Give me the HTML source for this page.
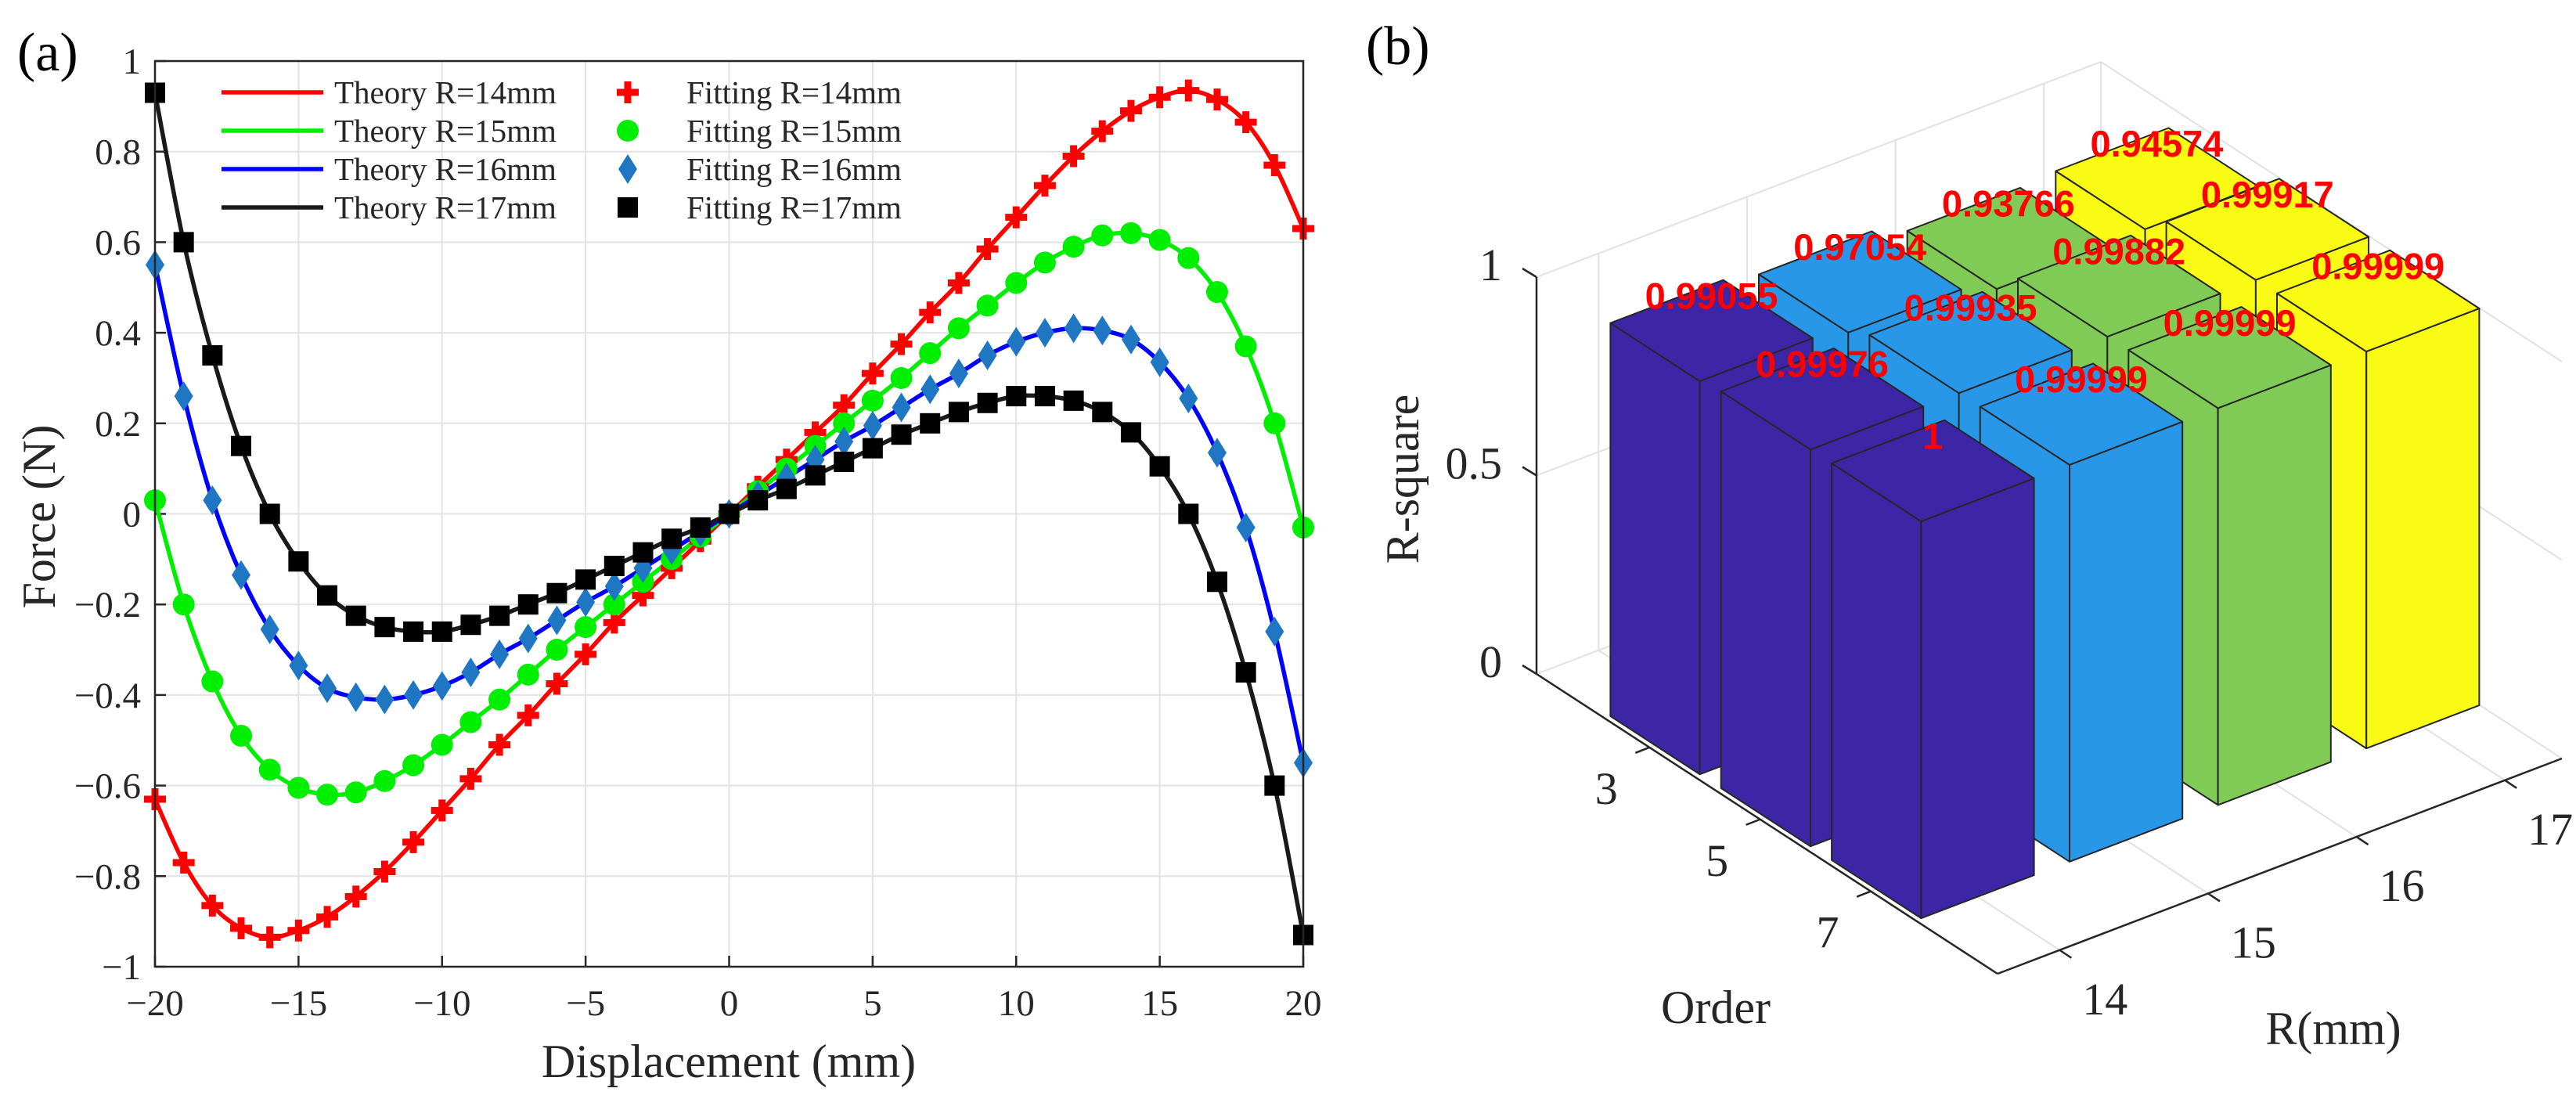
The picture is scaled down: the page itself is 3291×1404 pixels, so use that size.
<!DOCTYPE html>
<html><head><meta charset="utf-8"><style>
html,body{margin:0;padding:0;background:#fff;}
svg{display:block;}
</style></head><body>
<svg id="fig" width="3291" height="1404" viewBox="0 0 3291 1404" xmlns="http://www.w3.org/2000/svg">
<g id="left"></g>
<g id="right"></g>
</svg>
<script>
// ---------- Left chart data ----------
const xs = [-20,-19,-18,-17,-16,-15,-14,-13,-12,-11,-10,-9,-8,-7,-6,-5,-4,-3,-2,-1,0,1,2,3,4,5,6,7,8,9,10,11,12,13,14,15,16,17,18,19,20];
const r14 = [-0.63,-0.77,-0.865,-0.915,-0.935,-0.92,-0.89,-0.845,-0.79,-0.725,-0.655,-0.585,-0.51,-0.445,-0.375,-0.31,-0.24,-0.18,-0.12,-0.06,0,0.06,0.12,0.18,0.24,0.31,0.375,0.445,0.51,0.585,0.655,0.725,0.79,0.845,0.89,0.92,0.935,0.915,0.865,0.77,0.63];
const r15 = [0.03,-0.2,-0.37,-0.49,-0.565,-0.605,-0.62,-0.615,-0.59,-0.555,-0.51,-0.46,-0.41,-0.355,-0.3,-0.25,-0.2,-0.15,-0.1,-0.05,0,0.05,0.1,0.15,0.2,0.25,0.3,0.355,0.41,0.46,0.51,0.555,0.59,0.615,0.62,0.605,0.565,0.49,0.37,0.2,-0.03];
const r16 = [0.55,0.26,0.03,-0.135,-0.255,-0.335,-0.385,-0.405,-0.41,-0.4,-0.38,-0.35,-0.31,-0.275,-0.235,-0.195,-0.16,-0.12,-0.08,-0.04,0,0.04,0.08,0.12,0.16,0.195,0.235,0.275,0.31,0.35,0.38,0.4,0.41,0.405,0.385,0.335,0.255,0.135,-0.03,-0.26,-0.55];
const r17 = [0.93,0.6,0.35,0.15,0,-0.105,-0.18,-0.225,-0.25,-0.26,-0.26,-0.245,-0.225,-0.2,-0.175,-0.145,-0.115,-0.085,-0.055,-0.03,0,0.03,0.055,0.085,0.115,0.145,0.175,0.2,0.225,0.245,0.26,0.26,0.25,0.225,0.18,0.105,0,-0.15,-0.35,-0.6,-0.93];
const xTicks = [-20,-15,-10,-5,0,5,10,15,20];
const yTicks = [-1,-0.8,-0.6,-0.4,-0.2,0,0.2,0.4,0.6,0.8,1];
const seriesNames = ["R=14mm","R=15mm","R=16mm","R=17mm"];

// ---------- Right chart data ----------
const orders = ["3","5","7"];
const radii = ["14","15","16","17"];
const rsq3 = [0.99055,0.97054,0.93766,0.94574];
const rsq5 = [0.99976,0.99935,0.99882,0.99917];
const rsq7 = [1,0.99999,0.99999,0.99999];
const rsqLabels3 = ["0.99055","0.97054","0.93766","0.94574"];
const rsqLabels5 = ["0.99976","0.99935","0.99882","0.99917"];
const rsqLabels7 = ["1","0.99999","0.99999","0.99999"];
const zTicks = [0,0.5,1];
const zTickLabels = ["0","0.5","1"];

const NS = "http://www.w3.org/2000/svg";
function mk(parent, tag, attrs, text){
  const e = document.createElementNS(NS, tag);
  for (const k in attrs) e.setAttribute(k, attrs[k]);
  if (text !== undefined) e.textContent = text;
  parent.appendChild(e);
  return e;
}
const TIMES = '"Liberation Serif", serif';
const ARIAL = '"Liberation Sans", sans-serif';

// ================= LEFT =================
const L = document.getElementById('left');
const PX0=198, PX1=1665, PY0=78, PY1=1235;
const sx = v => PX0 + (v+20)/40*(PX1-PX0);
const sy = v => PY0 + (1-v)/2*(PY1-PY0);

// grid
xTicks.forEach(t=>{
  const g = mk(L,'line',{x1:sx(t),x2:sx(t),y1:PY0,y2:PY1,stroke:'#e3e3e3','stroke-width':2});
  
  
});
yTicks.forEach(t=>{
  const g = mk(L,'line',{x1:PX0,x2:PX1,y1:sy(t),y2:sy(t),stroke:'#e3e3e3','stroke-width':2});
  
  
});
// ticks & labels
xTicks.forEach(t=>{
  const tk = mk(L,'line',{x1:sx(t),x2:sx(t),y1:PY1,y2:PY1-14,stroke:'#262626','stroke-width':2.5});
  
  
  const lb = mk(L,'text',{x:sx(t),y:1297,'text-anchor':'middle','font-family':TIMES,'font-size':47,fill:'#262626'}, String(t).replace('-','\u2212'));
  
  
});
yTicks.forEach(t=>{
  const tk = mk(L,'line',{x1:PX0,x2:PX0+14,y1:sy(t),y2:sy(t),stroke:'#262626','stroke-width':2.5});
  
  
  const lb = mk(L,'text',{x:180,y:sy(t)+16,'text-anchor':'end','font-family':TIMES,'font-size':47,fill:'#262626'}, String(t).replace('-','\u2212'));
  
  
});

const colors = ['#ff0000','#00ee00','#0000ff','#1a1a1a'];
const markerColors = ['#ff0000','#00ee00','#1f77c4','#000000'];
const allSeries = [r14,r15,r16,r17];

function smoothPath(vals){
  const pts = xs.map((x,i)=>[sx(x),sy(vals[i])]);
  let d = 'M'+pts[0][0].toFixed(1)+','+pts[0][1].toFixed(1);
  for (let i=0;i<pts.length-1;i++){
    const p0=pts[Math.max(0,i-1)], p1=pts[i], p2=pts[i+1], p3=pts[Math.min(pts.length-1,i+2)];
    const c1=[p1[0]+(p2[0]-p0[0])/6, p1[1]+(p2[1]-p0[1])/6];
    const c2=[p2[0]-(p3[0]-p1[0])/6, p2[1]-(p3[1]-p1[1])/6];
    d += ' C'+c1[0].toFixed(1)+','+c1[1].toFixed(1)+' '+c2[0].toFixed(1)+','+c2[1].toFixed(1)+' '+p2[0].toFixed(1)+','+p2[1].toFixed(1);
  }
  return d;
}
function drawMarker(parent, k, cx, cy){
  let m;
  const c = markerColors[k];
  if (k===0){
    m = mk(parent,'path',{d:`M${cx-14},${cy}H${cx+14}M${cx},${cy-14}V${cy+14}`,stroke:c,'stroke-width':9,fill:'none'});
  } else if (k===1){
    m = mk(parent,'circle',{cx:cx,cy:cy,r:14,fill:c});
  } else if (k===2){
    m = mk(parent,'path',{d:`M${cx},${cy-19}L${cx+12},${cy}L${cx},${cy+19}L${cx-12},${cy}Z`,fill:c});
  } else {
    m = mk(parent,'rect',{x:cx-13,y:cy-13,width:26,height:26,fill:c});
  }
  return m;
}
allSeries.forEach((vals,k)=>{
  const p = mk(L,'path',{d:smoothPath(vals),fill:'none',stroke:colors[k],'stroke-width':5.5,'stroke-linejoin':'round'});
  
  
});
allSeries.forEach((vals,k)=>{
  xs.forEach((x,i)=>{
    const m = drawMarker(L,k,sx(x),sy(vals[i]));
    
    
  });
});
// axes box
const box = mk(L,'rect',{x:PX0,y:PY0,width:PX1-PX0,height:PY1-PY0,fill:'none',stroke:'#262626','stroke-width':2.5});



// legend
const legY=[118,167,216,265];
seriesNames.forEach((n,k)=>{
  const ln = mk(L,'line',{x1:283,x2:413,y1:legY[k],y2:legY[k],stroke:colors[k],'stroke-width':5.5});
  
  
  const t1 = mk(L,'text',{x:427,y:legY[k]+14,'font-family':TIMES,'font-size':41,fill:'#262626'},'Theory '+n);
  
  
  const mm = drawMarker(L,k,802,legY[k]);
  
  
  const t2 = mk(L,'text',{x:877,y:legY[k]+14,'font-family':TIMES,'font-size':41,fill:'#262626'},'Fitting '+n);
  
  
});
const xt = mk(L,'text',{x:931,y:1376,'text-anchor':'middle','font-family':TIMES,'font-size':60,fill:'#262626'},'Displacement (mm)');


const yt = mk(L,'text',{x:0,y:0,'text-anchor':'middle','font-family':TIMES,'font-size':60,fill:'#262626',transform:'translate(70,660) rotate(-90)'},'Force (N)');


const pa = mk(L,'text',{x:22,y:90,'font-family':TIMES,'font-size':70,fill:'#000'},'(a)');



// ================= RIGHT =================
const R = document.getElementById('right');
const OX=1963, OY=861, OV=[589,383], RV=[721,-275], ZU=507;
const P = (o,r,z)=>[OX+OV[0]*o+RV[0]*r, OY+OV[1]*o+RV[1]*r-ZU*z];
const oPos = i => 0.245+0.24*i;
const rPos = j => 0.11+0.263*j;
const HA=0.097, HB=0.10;
const gridC='#e2e2e2';
function seg(parent,a,b,stroke,w){return mk(parent,'line',{x1:a[0],y1:a[1],x2:b[0],y2:b[1],stroke:stroke,'stroke-width':w});}

// back walls gridlines
zTicks.forEach(z=>{
  const g1 = seg(R,P(0,0,z),P(0,1,z),gridC,2);
  
  
  const g2 = seg(R,P(0,1,z),P(1,1,z),gridC,2);
  
  
});
radii.forEach((_,j)=>{
  const g = seg(R,P(0,rPos(j),0),P(0,rPos(j),1),gridC,2);
  
  
  const f = seg(R,P(0,rPos(j),0),P(1,rPos(j),0),gridC,2);
  
  
});
orders.forEach((_,i)=>{
  const g = seg(R,P(oPos(i),1,0),P(oPos(i),1,1),gridC,2);
  
  
  const f = seg(R,P(oPos(i),0,0),P(oPos(i),1,0),gridC,2);
  
  
});
const bc = seg(R,P(0,1,0),P(0,1,1),gridC,2);



// axis lines
const ax1 = seg(R,P(0,0,0),P(0,0,1),'#262626',2.5);


const ax2 = seg(R,P(0,0,0),P(1,0,0),'#262626',2.5);


const ax3 = seg(R,P(1,0,0),P(1,1,0),'#262626',2.5);



zTicks.forEach((z,k)=>{
  const p = P(0,0,z);
  const tk = seg(R,p,[p[0]-18,p[1]-11],'#262626',2.5);
  
  
  const lb = mk(R,'text',{x:p[0]-44,y:p[1]+4,'text-anchor':'end','font-family':TIMES,'font-size':58,fill:'#262626'},zTickLabels[k]);
  
  
});
orders.forEach((o,i)=>{
  const p = P(oPos(i),0,0);
  const tk = seg(R,p,[p[0]-18,p[1]+7],'#262626',2.5);
  
  
  const lb = mk(R,'text',{x:p[0]-55,y:p[1]+72,'text-anchor':'middle','font-family':TIMES,'font-size':58,fill:'#262626'},o);
  
  
});
radii.forEach((r,j)=>{
  const p = P(1,rPos(j),0);
  const tk = seg(R,p,[p[0]+15,p[1]+10],'#262626',2.5);
  
  
  const lb = mk(R,'text',{x:p[0]+58,y:p[1]+82,'text-anchor':'middle','font-family':TIMES,'font-size':58,fill:'#262626'},r);
  
  
});

// bars
const rsqRows=[rsq3,rsq5,rsq7];
const labRows=[rsqLabels3,rsqLabels5,rsqLabels7];
const barColors=['#3c26a6','#2897e8','#80ca56','#f9fb15'];
const bars=[];
orders.forEach((_,i)=>radii.forEach((_,j)=>bars.push({i,j,h:rsqRows[i][j]})));
bars.sort((a,b)=>P(oPos(a.i),rPos(a.j),0)[1]-P(oPos(b.i),rPos(b.j),0)[1]);
const poly = pts => pts.map(p=>p[0].toFixed(1)+','+p[1].toFixed(1)).join(' ');
bars.forEach(b=>{
  const o=oPos(b.i), r=rPos(b.j), h=b.h, c=barColors[b.j];
  const g = mk(R,'g',{});
  
  
  const st={fill:c,stroke:'#262626','stroke-width':2,'stroke-linejoin':'round'};
  mk(g,'polygon',Object.assign({points:poly([P(o-HA,r-HB,0),P(o+HA,r-HB,0),P(o+HA,r-HB,h),P(o-HA,r-HB,h)])},st));
  mk(g,'polygon',Object.assign({points:poly([P(o+HA,r-HB,0),P(o+HA,r+HB,0),P(o+HA,r+HB,h),P(o+HA,r-HB,h)])},st));
  mk(g,'polygon',Object.assign({points:poly([P(o-HA,r-HB,h),P(o+HA,r-HB,h),P(o+HA,r+HB,h),P(o-HA,r+HB,h)])},st));
});
bars.forEach(b=>{
  const p = P(oPos(b.i),rPos(b.j),b.h);
  const t = mk(R,'text',{x:p[0],y:p[1]-28,'text-anchor':'middle','font-family':ARIAL,'font-weight':'bold','font-size':47,fill:'#ff0000'},labRows[b.i][b.j]);
  
  
});

const zt = mk(R,'text',{x:0,y:0,'text-anchor':'middle','font-family':TIMES,'font-size':60,fill:'#262626',transform:'translate(1812,612) rotate(-90)'},'R-square');


const ot = mk(R,'text',{x:2192,y:1307,'text-anchor':'middle','font-family':TIMES,'font-size':60,fill:'#262626'},'Order');


const rt = mk(R,'text',{x:2981,y:1334,'text-anchor':'middle','font-family':TIMES,'font-size':60,fill:'#262626'},'R(mm)');


const pb = mk(R,'text',{x:1745,y:82,'font-family':TIMES,'font-size':70,fill:'#000'},'(b)');


</script>
</body></html>
